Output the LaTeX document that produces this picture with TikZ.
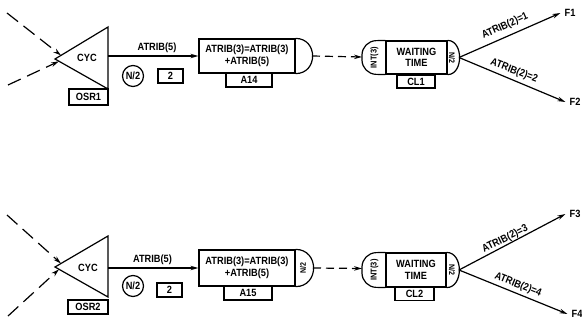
\documentclass[tikz,border=0pt]{standalone}
\usepackage{fontspec}
\setmainfont{Liberation Sans}[FakeStretch=0.88]
\usetikzlibrary{arrows.meta}
\begin{document}
\begin{tikzpicture}[x=1pt,y=-1pt,
  every node/.style={inner sep=1pt, font=\fontsize{10.5}{11.5}\selectfont\bfseries},
  ln/.style={line width=1.2pt},
  arr/.style={ln, -{Stealth[length=8pt,width=4.5pt]}},
  dasharr/.style={arr, dash pattern=on 14pt off 7pt},
  sdash/.style={arr, dash pattern=on 8pt off 5pt},
  lbox/.style={draw, ln, minimum height=14pt, inner sep=0pt},
  bigbox/.style={draw, ln, align=center, inner sep=0pt},
  nbox/.style={draw, ln, circle, minimum size=21pt, inner sep=0pt},
  small/.style={font=\fontsize{8.5}{9}\selectfont\bfseries, inner sep=0pt},
  tiny/.style={font=\fontsize{8}{8.5}\selectfont\bfseries, inner sep=0pt},
]
\useasboundingbox (0,0) rectangle (582,321);

% ================= TOP ROW =================
\coordinate (t1tip) at (55,59);
\coordinate (t1top) at (108,27);
\coordinate (t1bot) at (108,89);
\draw[ln] (t1tip) -- (t1top) -- (t1bot) -- cycle;
\coordinate (t1out) at (108,56);
\node (cyc1) at (87,58) {CYC};
\node[lbox, minimum width=39pt, minimum height=16pt] (osr1) at (88.5,97) {OSR1};
\coordinate (in1a) at (7,13);
\coordinate (e1a) at (61,55.4);
\coordinate (in1b) at (8,85);
\coordinate (e1b) at (59,61.3);
\draw[dasharr] (in1a) -- (e1a);
\draw[dasharr] (in1b) -- (e1b);

\node[bigbox, minimum width=96pt, minimum height=34pt] (a14) at (247,56) {ATRIB(3)=ATRIB(3)\\+ATRIB(5)};
\draw[arr] (t1out) -- (a14.west);
\node (lab5a) at (157,47.5) {ATRIB(5)};
\draw[ln] (a14.north east) .. controls +(22.7,0) and +(22.7,0) .. (a14.south east);
\coordinate (a14r) at (312,56);
\node[lbox, minimum width=46pt] (a14l) at (249,80) {A14};
\node[nbox] (n1) at (133,76) {N/2};
\node[lbox, minimum width=25pt] (b1) at (170.5,76) {2};

\node[bigbox, minimum width=61pt, minimum height=33pt] (q1) at (416.5,57.5) {WAITING\\TIME};
\draw[ln, rounded corners=14pt] (q1.north west) -- (362,41) -- (362,74) -- (q1.south west);
\draw[ln] (q1.north east) .. controls +(16,0) and +(16,0) .. (q1.south east);
\node[small, rotate=90] (int1) at (374.5,57.5) {INT(3)};
\node[tiny, rotate=-90] (qn1) at (452,57.5) {N/2};
\coordinate (q1in) at (362,57);
\coordinate (q1r) at (459,57.5);
\draw[sdash] (a14r) -- (q1in);
\node[lbox, minimum width=38pt, minimum height=13pt] (cl1) at (416,81.5) {CL1};

\node (f1) at (570,13) {F1};
\node (f2) at (575,102) {F2};
\draw[arr] (q1r) -- ([xshift=-3pt]f1.west);
\draw[arr] (q1r) -- ([xshift=-3pt]f2.west);
\node[rotate=24] (l1) at (505,26) {ATRIB(2)=1};
\node[rotate=-21] (l2) at (514,71) {ATRIB(2)=2};

% ================= BOTTOM ROW =================
\coordinate (t2tip) at (55,267);
\coordinate (t2top) at (108,236);
\coordinate (t2bot) at (108,297);
\draw[ln] (t2tip) -- (t2top) -- (t2bot) -- cycle;
\coordinate (t2out) at (108,268);
\node (cyc2) at (88,268) {CYC};
\node[lbox, minimum width=40pt] (osr2) at (88,307) {OSR2};
\coordinate (in2a) at (7,215);
\coordinate (e2a) at (61,263.5);
\coordinate (in2b) at (8,316);
\coordinate (e2b) at (59,269.3);
\draw[dasharr] (in2a) -- (e2a);
\draw[dasharr] (in2b) -- (e2b);

\node[bigbox, minimum width=96pt, minimum height=36pt] (a15) at (247,268) {ATRIB(3)=ATRIB(3)\\+ATRIB(5)};
\draw[arr] (t2out) -- (a15.west);
\node (lab5b) at (152.5,260) {ATRIB(5)};
\draw[ln] (a15.north east) .. controls +(24,0) and +(24,0) .. (a15.south east);
\node[tiny, rotate=90] (an2) at (303,268) {N/2};
\coordinate (a15r) at (313,268);
\node[lbox, minimum width=48pt] (a15l) at (248,293) {A15};
\node[nbox] (n2) at (133,286) {N/2};
\node[lbox, minimum width=25pt] (b2) at (169.5,290) {2};

\node[bigbox, minimum width=60pt, minimum height=34pt] (q2) at (416,270) {WAITING\\TIME};
\draw[ln, rounded corners=14pt] (q2.north west) -- (362,253) -- (362,287) -- (q2.south west);
\draw[ln] (q2.north east) .. controls +(17,0) and +(17,0) .. (q2.south east);
\node[small, rotate=90] (int2) at (374.5,270) {INT(3)};
\node[tiny, rotate=-90] (qn2) at (452,270) {N/2};
\coordinate (q2in) at (362,268.5);
\coordinate (q2r) at (459,270);
\draw[sdash] (a15r) -- (q2in);
\node[lbox, minimum width=39pt, minimum height=13pt] (cl2) at (414.5,294) {CL2};

\node (f3) at (575,214) {F3};
\node (f4) at (577,314) {F4};
\draw[arr] (q2r) -- ([xshift=-3pt]f3.west);
\draw[arr] (q2r) -- ([xshift=-3pt]f4.west);
\node[rotate=26] (l3) at (505,239) {ATRIB(2)=3};
\node[rotate=-22] (l4) at (518,285) {ATRIB(2)=4};
\end{tikzpicture}
\end{document}
